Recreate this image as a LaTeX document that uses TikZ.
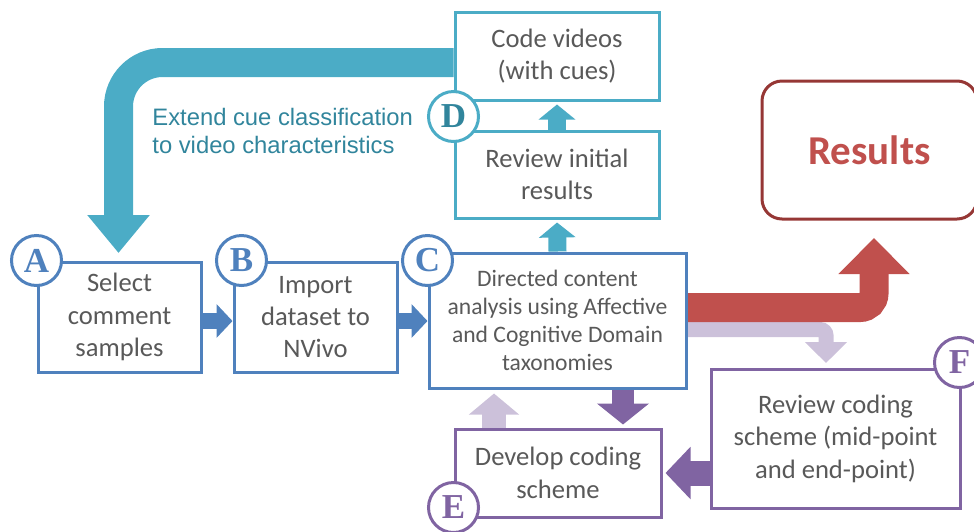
\documentclass[tikz,border=0pt]{standalone}
\usepackage{fontspec}
\setmainfont{Carlito}
\newfontfamily\cuefont{Liberation Sans}
\newfontfamily\tagfont{Liberation Serif}
\usetikzlibrary{arrows.meta, backgrounds, calc}
\definecolor{bluecol}{RGB}{79, 129, 189}
\definecolor{tealcol}{RGB}{75, 172, 198}
\definecolor{tealdark}{RGB}{49, 133, 156}
\definecolor{redcol}{RGB}{192, 80, 77}
\definecolor{reddark}{RGB}{150, 55, 53}
\definecolor{purpcol}{RGB}{128, 100, 162}
\definecolor{lilaccol}{RGB}{204, 193, 218}
\definecolor{textcol}{RGB}{89, 89, 89}
\tikzset{
  stage/.style    = {draw, line width=1.5pt, fill=white, align=center,
                     inner sep=0pt, text=textcol,
                     font=\fontsize{13.3}{16.2}\selectfont},
  bluebox/.style  = {stage, draw=bluecol},
  tealbox/.style  = {stage, draw=tealcol},
  purpbox/.style  = {stage, draw=purpcol},
  resbox/.style   = {stage, draw=reddark, rounded corners=10pt, text=redcol,
                     font=\fontsize{20.5}{24}\selectfont\bfseries},
  tag/.style      = {circle, draw, line width=1.5pt, fill=white,
                     minimum size=25pt, inner sep=0pt,
                     font=\tagfont\bfseries\fontsize{17.5}{17.5}\selectfont},
  cue/.style      = {text=tealdark, align=left, inner sep=0pt,
                     font=\cuefont\fontsize{11.9}{14}\selectfont},
  % block arrows: a thick shaft with a wide triangle head
  fwd/.style      = {draw=bluecol, line width=8pt,
                     -{Triangle[width=16.5pt, length=8pt]}},
  rise/.style     = {draw=tealcol, line width=9pt, shorten >=1.5pt,
                     -{Triangle[width=18pt, length=7.5pt]}},
  loopback/.style = {draw=tealcol, line width=14.5pt, rounded corners=22pt,
                     -{Triangle[width=30pt, length=19pt]}},
  tores/.style    = {draw=redcol, line width=14.5pt, rounded corners=7pt,
                     -{Triangle[width=34.5pt, length=18pt]}},
  torev/.style    = {draw=lilaccol, line width=7.5pt, rounded corners=3pt,
                     -{Triangle[width=20.5pt, length=10.5pt]}},
  toback/.style   = {draw=lilaccol, line width=12pt, shorten >=2pt,
                     -{Triangle[width=24.5pt, length=10.5pt]}},
  todown/.style   = {draw=purpcol, line width=11pt, shorten >=1.5pt,
                     -{Triangle[width=25.5pt, length=10.5pt]}},
  toleft/.style   = {draw=purpcol, line width=12.5pt, shorten >=1.5pt,
                     -{Triangle[width=25.5pt, length=12.5pt]}},
}
\begin{document}
\begin{tikzpicture}[x=0.5pt, y=-0.5pt]
  \useasboundingbox (0,0) rectangle (974,531);

  %% ---------------- the stages ----------------
  \node[bluebox, minimum width=81.5pt, minimum height=55pt] (sel)
       at (119.5,317) {Select\\comment\\samples};
  \node[bluebox, minimum width=81.5pt, minimum height=55pt] (imp)
       at (315.5,317) {Import\\dataset to\\NVivo};
  \node[bluebox, minimum width=128.5pt, minimum height=67.5pt,
        font=\fontsize{11.8}{14}\selectfont] (dca)
       at (557.5,320.5) {Directed content\\analysis using Affective\\
                         and Cognitive Domain\\taxonomies};

  \node[tealbox, minimum width=102pt, minimum height=44pt] (code)
       at (557,56) {Code videos\\(with cues)};
  \node[tealbox, minimum width=102pt, minimum height=43.5pt] (rev)
       at (557,174.5) {Review initial\\results};

  \node[purpbox, minimum width=103pt, minimum height=44pt] (dev)
       at (558,473) {Develop coding\\scheme};
  \node[purpbox, minimum width=124.5pt, minimum height=69.5pt] (rcs)
       at (835.5,438.5) {Review coding\\scheme (mid-point\\and end-point)};

  \node[resbox, minimum width=107.5pt, minimum height=69pt] (res)
       at (869.5,150) {Results};

  %% ---------------- the arrows ----------------
  \coordinate (tipA) at (118.5,253);
  \coordinate (redtip) at (874,238);
  \coordinate (liltip) at (826,363);

  \begin{scope}[on background layer]
    \draw[loopback] ([yshift=-3.25pt]code.west) -| (tipA);
    \draw[fwd] ([yshift=-2pt]sel.east) -- ([yshift=-2pt]imp.west);
    \draw[fwd] ([yshift=-2pt]imp.east) -- ([yshift=-2pt]imp.east -| dca.west);
    \draw[rise] (dca.north) -- (rev.south);
    \draw[rise] (rev.north) -- (code.south);
    \draw[torev] ([yshift=-4.5pt]dca.east) -| (liltip);
    \draw[tores] ([yshift=6.5pt]dca.east) -| (redtip);
    \draw[todown] ([xshift=32.75pt]dca.south)
          -- ([xshift=32.75pt]dca.south |- dev.north);
    \draw[toback] ([xshift=-32pt]dev.north)
          -- ([xshift=-32pt]dev.north |- dca.south);
    \draw[toleft] (rcs.west |- dev.east) -- (dev.east);
  \end{scope}

  \node[cue, anchor=west] (cuelbl) at (152,131)
       {Extend cue classification\\to video characteristics};

  %% ---------------- the letters ----------------
  \node[tag, draw=bluecol, text=bluecol] (tagA) at (sel.north west) {A};
  \node[tag, draw=bluecol, text=bluecol] (tagB)
       at ([xshift=4.5pt]imp.north west) {B};
  \node[tag, draw=bluecol, text=bluecol] (tagC)
       at ([yshift=-4.5pt]dca.north west) {C};
  \node[tag, draw=tealcol, text=tealdark] (tagD)
       at ($(code.south west)!0.5!(rev.north west)+(0,1)$) {D};
  \node[tag, draw=purpcol, text=purpcol] (tagE)
       at ([yshift=5.5pt]dev.south west) {E};
  \node[tag, draw=purpcol, text=purpcol] (tagF)
       at ([xshift=-1pt, yshift=2.5pt]rcs.north east) {F};

\end{tikzpicture}
\end{document}
